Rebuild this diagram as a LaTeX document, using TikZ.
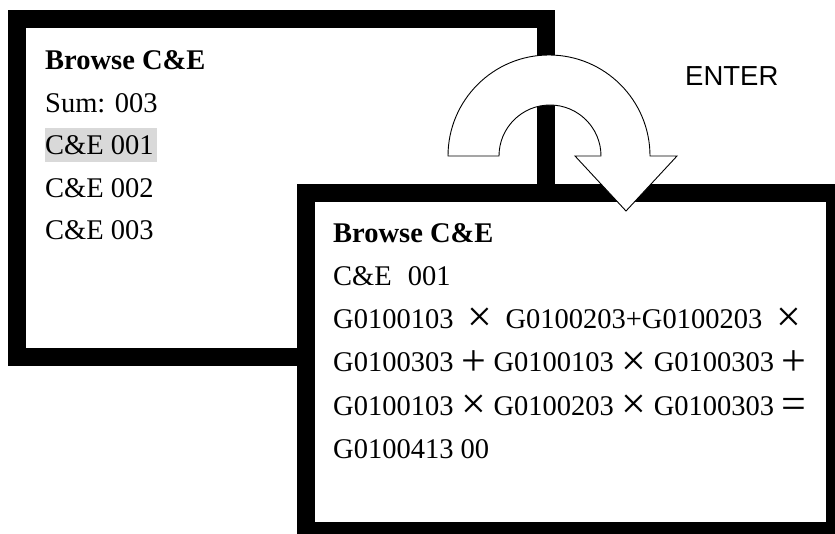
\documentclass[tikz,border=0pt]{standalone}
\usepackage{fontspec}
\setmainfont{Liberation Serif}
\newfontfamily\keyfont{Liberation Sans}
\usepackage{tikz}
\usetikzlibrary{positioning}
\newcommand\opbox[2][40pt]{\makebox[#1]{\raisebox{-3pt}{\fontsize{44}{44}\selectfont #2}}}

\begin{document}
\begin{tikzpicture}[x=1pt,y=1pt,
  screen/.style={draw=black,line width=18pt,fill=white},
  txt/.style={anchor=base west,inner sep=0pt,font=\fontsize{28.5}{28.5}\selectfont},
  turn/.style={draw=black,line width=0.9pt,fill=white,line join=miter}]
\useasboundingbox (0,0) rectangle (835,-534);

% the two screens
\draw[screen] (17,-19.5) rectangle (546,-357);
\fill[gray!30] (45,-128) rectangle (157,-162);
\path
(45,-70)  node[txt] (t1) {\textbf{Browse C\&E}}
(45,-112.5) node[txt] (t2) {Sum: 003}
(45,-155) node[txt] (t3) {C\&E 001}
(45,-197.5) node[txt] (t4) {C\&E 002}
(45,-240) node[txt] (t5) {C\&E 003};

\draw[screen] (305.5,-193) rectangle (835,-531);
\path
(333,-243) node[txt] (r1) {\textbf{Browse C\&E}}
(333,-286) node[txt] (r2) {C\&E\hspace{16pt}001}
(333,-329) node[txt] (r3) {G0100103\opbox[52pt]{×}G0100203+G0100203\opbox[54pt]{×}}
(333,-372) node[txt] (r4) {G0100303\opbox{+}G0100103\opbox{×}G0100303\opbox{+}}
(333,-415) node[txt] (r5) {G0100103\opbox{×}G0100203\opbox{×}G0100303\opbox{=}}
(333,-458) node[txt] (r6) {G0100413 00};

% the ENTER arrow
\draw[turn] (448,-156) arc[start angle=180,end angle=0,radius=101]
  -- (677,-156) -- (626,-211) -- (575,-156) -- (601,-156)
  arc[start angle=0,end angle=180,radius=51] -- cycle;
\node[anchor=base west,inner sep=0pt,font=\keyfont\fontsize{27.5}{27.5}\selectfont] (key) at (685,-86) {ENTER};
\end{tikzpicture}
\end{document}
